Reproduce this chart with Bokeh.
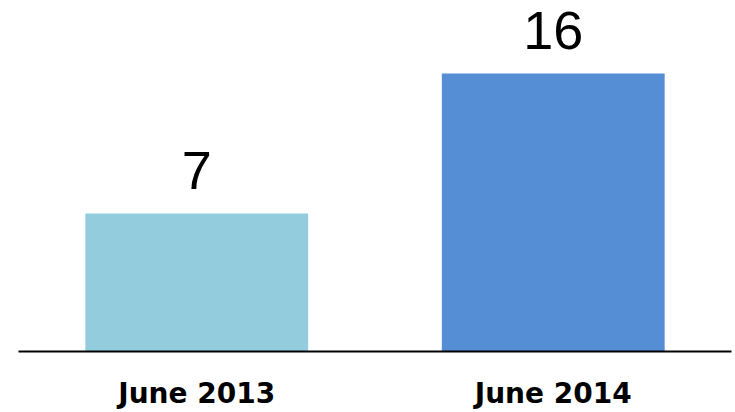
from bokeh.plotting import figure
from bokeh.models import ColumnDataSource, Range1d
from bokeh.core.properties import value
from bokeh.embed import file_html
from bokeh.resources import INLINE

# Data
categories = ["June 2013", "June 2014"]
counts = [7, 16]
bar_colors = ["#93CDDD", "#558ED5"]
value_labels = ["7", "16"]

# Layout constants (axis range as drawn in the original)
Y_START = -1.87
Y_END = 20.69

src = ColumnDataSource(data=dict(
    cat=categories, val=counts, color=bar_colors, label=value_labels,
    bottom=[Y_START] * len(counts),
))

p = figure(
    x_range=categories, y_range=Range1d(Y_START, Y_END),
    width=735, height=412, output_backend="svg", toolbar_location=None,
    min_border_left=18, min_border_right=4, min_border_top=0, min_border_bottom=61,
)
p.background_fill_color = "white"
p.border_fill_color = "white"
p.outline_line_color = None
p.xgrid.grid_line_color = None
p.ygrid.grid_line_color = None
p.yaxis.visible = False
p.x_range.range_padding = 0

p.vbar(x="cat", top="val", bottom="bottom", width=0.625, color="color",
       line_color=None, source=src)

p.text(x="cat", y="val", text="label", source=src,
       text_align="center", text_baseline="alphabetic", y_offset=-43,
       text_font=value("Liberation Sans"), text_font_size="54px",
       text_color="black")

ax = p.xaxis[0]
ax.axis_line_color = "black"
ax.axis_line_width = 2
ax.major_tick_line_color = None
ax.minor_tick_line_color = None
ax.major_label_text_font = "DejaVu Sans"
ax.major_label_text_font_style = "bold"
ax.major_label_text_font_size = "28px"
ax.major_label_text_color = "black"
ax.major_label_standoff = 19

open("out.html", "w").write(file_html(p, INLINE))
